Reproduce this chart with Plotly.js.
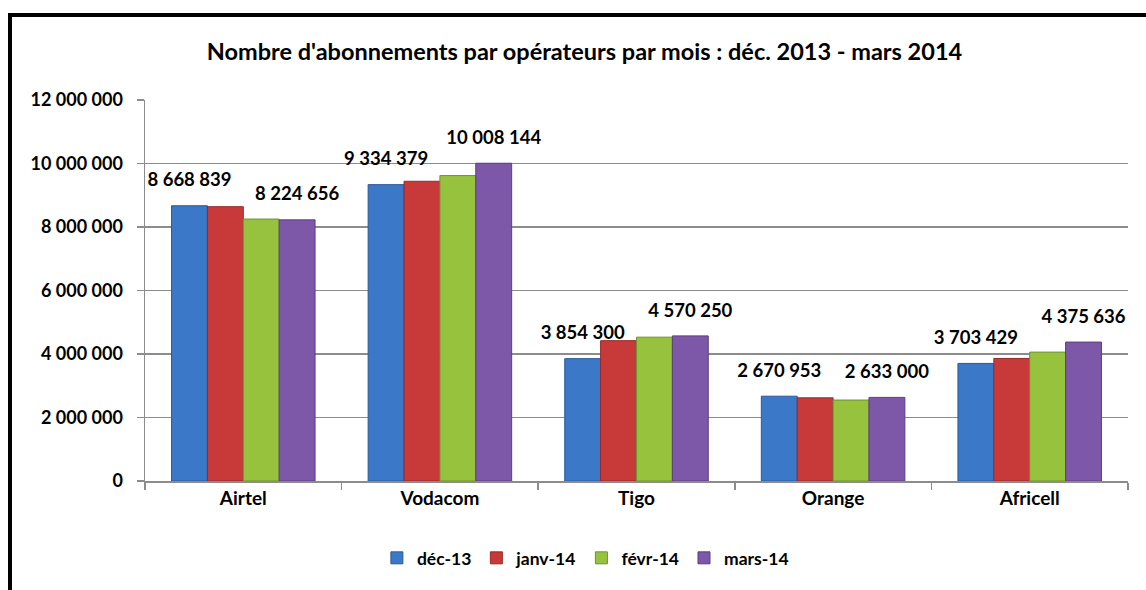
<!DOCTYPE html>
<html>
<head>
<meta charset="utf-8">
<script src="https://cdn.plot.ly/plotly-3.0.1.min.js"></script>
<style>
html,body{margin:0;padding:0;background:#fff;}
#chart{width:1146px;height:590px;}
</style>
</head>
<body>
<div id="chart"></div>
<script>
const categories = ['Airtel', 'Vodacom', 'Tigo', 'Orange', 'Africell'];
const seriesNames = ['déc-13', 'janv-14', 'févr-14', 'mars-14'];
const dec13  = [8668839, 9334379, 3854300, 2670953, 3703429];
const janv14 = [8640000, 9440000, 4420000, 2620000, 3860000];
const fevr14 = [8250000, 9620000, 4530000, 2550000, 4060000];
const mars14 = [8224656, 10008144, 4570250, 2633000, 4375636];
const labelled = [true, false, false, true];
const colors = ['#3B78C8', '#C83A3A', '#97C23E', '#7D57A8'];
const edges  = ['#2A5A99', '#952A2A', '#6F9130', '#5C3F80'];
const yTicks = [0, 2000000, 4000000, 6000000, 8000000, 10000000, 12000000];

const allSeries = [dec13, janv14, fevr14, mars14];
const font = 'Lato, "Open Sans", sans-serif';
const fmt = v => String(v).replace(/\B(?=(\d{3})+(?!\d))/g, ' ');

const bars = allSeries.map((vals, i) => ({
  type: 'bar',
  name: seriesNames[i],
  x: categories,
  y: vals,
  marker: {color: colors[i], line: {color: edges[i], width: 1}},
  hoverinfo: 'x+y+name'
}));

// data labels: grouped text scatter traces aligned with the bars (invisible markers set the offset)
const labels = allSeries.map((vals, i) => ({
  type: 'scatter',
  mode: 'markers+text',
  x: categories,
  y: vals,
  text: vals.map(v => labelled[i] ? fmt(v) : ''),
  textposition: 'top center',
  textfont: {family: font, size: 18.5, color: '#000', weight: 'bold'},
  marker: {size: 22, opacity: 0, color: '#fff'},
  showlegend: false,
  cliponaxis: false,
  hoverinfo: 'skip'
}));

// plot-area geometry helpers for the frame
const W = 1146, H = 590;
const m = {l: 145, r: 18, t: 100, b: 109};
const px = v => (v - m.l) / (W - m.l - m.r);
const py = v => (H - m.b - v) / (H - m.t - m.b);

const layout = {
  width: W, height: H,
  margin: m,
  separators: ', ',
  paper_bgcolor: '#fff',
  plot_bgcolor: '#fff',
  font: {family: font, color: '#000'},
  title: {
    text: "Nombre d'abonnements par opérateurs par mois : déc. 2013 - mars 2014",
    font: {family: font, size: 23.5, color: '#000', weight: 'bold'},
    x: 0.51, xanchor: 'center', y: 0.912, yanchor: 'middle'
  },
  barmode: 'group',
  bargap: 0.27,
  bargroupgap: 0,
  scattermode: 'group',
  scattergap: 0.27,
  xaxis: {
    type: 'category',
    showline: true, linecolor: '#8c8c8c', linewidth: 1.5,
    ticks: 'outside', tickson: 'boundaries', ticklen: 7, tickcolor: '#8c8c8c', tickwidth: 1.5,
    tickfont: {family: font, size: 19, color: '#000', weight: 'bold'},
    showgrid: false
  },
  yaxis: {
    range: [0, 12000000],
    tickvals: yTicks,
    tickformat: ',d',
    showline: true, linecolor: '#8c8c8c', linewidth: 1.5,
    ticks: 'outside', ticklen: 7, tickcolor: '#8c8c8c', tickwidth: 1.5,
    showgrid: true, gridcolor: '#8c8c8c', gridwidth: 1.5,
    zeroline: false,
    tickfont: {family: font, size: 18, color: '#000', weight: 'bold'},
    ticklabelstandoff: 10
  },
  legend: {
    orientation: 'h', x: 0.448, xanchor: 'center', y: -0.202, yanchor: 'middle',
    font: {family: font, size: 17.5, color: '#000', weight: 'bold'},
    itemwidth: 30, tracegroupgap: 0
  },
  shapes: [
    {type: 'line', xref: 'paper', yref: 'paper', x0: px(10), x1: px(W + 5), y0: py(15), y1: py(15), line: {color: '#000', width: 4}},
    {type: 'line', xref: 'paper', yref: 'paper', x0: px(10), x1: px(10), y0: py(13), y1: py(H + 5), line: {color: '#000', width: 4}}
  ],
  showlegend: true
};

Plotly.newPlot('chart', bars.concat(labels), layout, {displayModeBar: false, staticPlot: true});
</script>
</body>
</html>
